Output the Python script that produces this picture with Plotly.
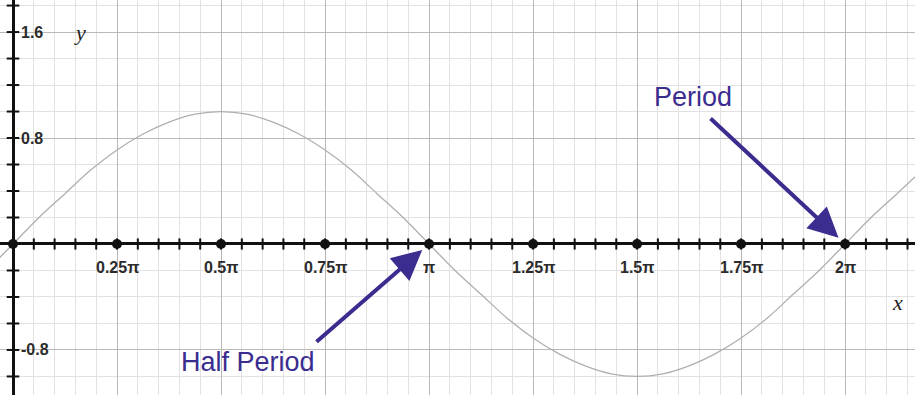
import numpy as np
import plotly.graph_objects as go

# Curve samples, x in multiples of pi
X_PI = [-0.0625, 0.0, 0.0625, 0.125, 0.1875, 0.25, 0.3125, 0.375, 0.4375, 0.5,
        0.5625, 0.625, 0.6875, 0.75, 0.8125, 0.875, 0.9375, 1.0,
        1.0625, 1.125, 1.1875, 1.25, 1.3125, 1.375, 1.4375, 1.5,
        1.5625, 1.625, 1.6875, 1.75, 1.8125, 1.875, 1.9375, 2.0,
        2.0625, 2.125, 2.1875, 2.25]
Y_VAL = [-0.20, 0.0, 0.20, 0.38, 0.56, 0.71, 0.83, 0.92, 0.98, 1.00,
         0.98, 0.92, 0.83, 0.71, 0.56, 0.38, 0.20, 0.0,
         -0.20, -0.38, -0.56, -0.71, -0.83, -0.92, -0.98, -1.00,
         -0.98, -0.92, -0.83, -0.71, -0.56, -0.38, -0.20, 0.0,
         0.20, 0.38, 0.56, 0.71]

X_TICKS = [0.25, 0.5, 0.75, 1.0, 1.25, 1.5, 1.75, 2.0]
X_TICK_TEXT = ["0.25π", "0.5π", "0.75π", "π", "1.25π", "1.5π", "1.75π", "2π"]
Y_TICKS = [1.6, 0.8, -0.8]
Y_TICK_TEXT = ["1.6", "0.8", "-0.8"]

HALF_PERIOD = 1.0
PERIOD = 2.0

X_RANGE = [-0.03125, 2.168]
Y_RANGE = [-1.14, 1.842]

INK = "#3a2d8f"
TICK_FONT = dict(family="Liberation Sans, Arial, sans-serif", size=16, color="#2b2b2b", weight="bold")

fig = go.Figure()

# sine curve
fig.add_trace(go.Scatter(x=X_PI, y=Y_VAL, mode="lines", line=dict(color="#b3aeae", width=1.3, shape="spline"),
                         hoverinfo="skip", showlegend=False))

# small tick marks on the axes
minor_x = np.round(np.arange(0.05, 2.2, 0.05), 3)
fig.add_trace(go.Scatter(x=minor_x, y=[0] * len(minor_x), mode="markers",
                         marker=dict(symbol="line-ns-open", size=8, color="#111", line=dict(color="#111", width=2)),
                         hoverinfo="skip", showlegend=False))
minor_y = [v for v in np.round(np.arange(-1.2, 1.9, 0.2), 3) if abs(v) > 1e-9]
fig.add_trace(go.Scatter(x=[0] * len(minor_y), y=minor_y, mode="markers",
                         marker=dict(symbol="line-ew-open", size=9, color="#111", line=dict(color="#111", width=2)),
                         hoverinfo="skip", showlegend=False))
# dots at the labelled x ticks and the origin
fig.add_trace(go.Scatter(x=[0] + X_TICKS, y=[0] * (len(X_TICKS) + 1), mode="markers",
                         marker=dict(symbol="circle", size=10, color="#111"),
                         hoverinfo="skip", showlegend=False))

annotations = []
for xv, txt in zip(X_TICKS, X_TICK_TEXT):
    annotations.append(dict(x=xv, y=0, text=txt, showarrow=False, xanchor="center", yanchor="top",
                            yshift=-13, font=TICK_FONT))
for yv, txt in zip(Y_TICKS, Y_TICK_TEXT):
    annotations.append(dict(x=0, y=yv, text=txt, showarrow=False, xanchor="left", yanchor="middle",
                            xshift=6, font=TICK_FONT))

# axis names
axis_font = dict(family="Liberation Serif, Times New Roman, serif", size=22, color="#222")
annotations.append(dict(x=0.161, y=1.6, text="<i>y</i>", showarrow=False, xanchor="center", yanchor="middle",
                        font=axis_font))
annotations.append(dict(x=2.125, y=-0.445, text="<i>x</i>", showarrow=False, xanchor="center", yanchor="middle",
                        font=axis_font))

# labelled arrows
label_font = dict(family="Liberation Sans, Arial, sans-serif", size=27, color=INK)
arrow_style = dict(showarrow=True, arrowhead=2, arrowsize=1.5, arrowwidth=4, arrowcolor=INK, standoff=9)
annotations.append(dict(x=1.635, y=1.11, text="Period", showarrow=False, font=label_font,
                        xanchor="center", yanchor="middle"))
annotations.append(dict(x=PERIOD, y=0, ax=1.673, ay=0.958, axref="x", ayref="y", text="", **arrow_style))
annotations.append(dict(x=0.565, y=-0.89, text="Half Period", showarrow=False, font=label_font,
                        xanchor="center", yanchor="middle"))
annotations.append(dict(x=HALF_PERIOD, y=0, ax=0.726, ay=-0.747, axref="x", ayref="y", text="", **arrow_style))

fig.update_layout(
    width=915, height=395,
    margin=dict(l=0, r=0, t=0, b=0),
    paper_bgcolor="white", plot_bgcolor="white",
    annotations=annotations,
    xaxis=dict(range=X_RANGE, tick0=0, dtick=0.25, showticklabels=False, ticks="",
               showgrid=True, gridcolor="#bdb8b8", gridwidth=1,
               minor=dict(dtick=0.05, tick0=0, showgrid=True, gridcolor="#e3e1e1", gridwidth=1),
               zeroline=True, zerolinecolor="#111", zerolinewidth=3, fixedrange=True),
    yaxis=dict(range=Y_RANGE, tick0=0, dtick=0.8, showticklabels=False, ticks="",
               showgrid=True, gridcolor="#bdb8b8", gridwidth=1,
               minor=dict(dtick=0.2, tick0=0, showgrid=True, gridcolor="#e3e1e1", gridwidth=1),
               zeroline=True, zerolinecolor="#111", zerolinewidth=3, fixedrange=True),
)

fig.write_html("out.html")
